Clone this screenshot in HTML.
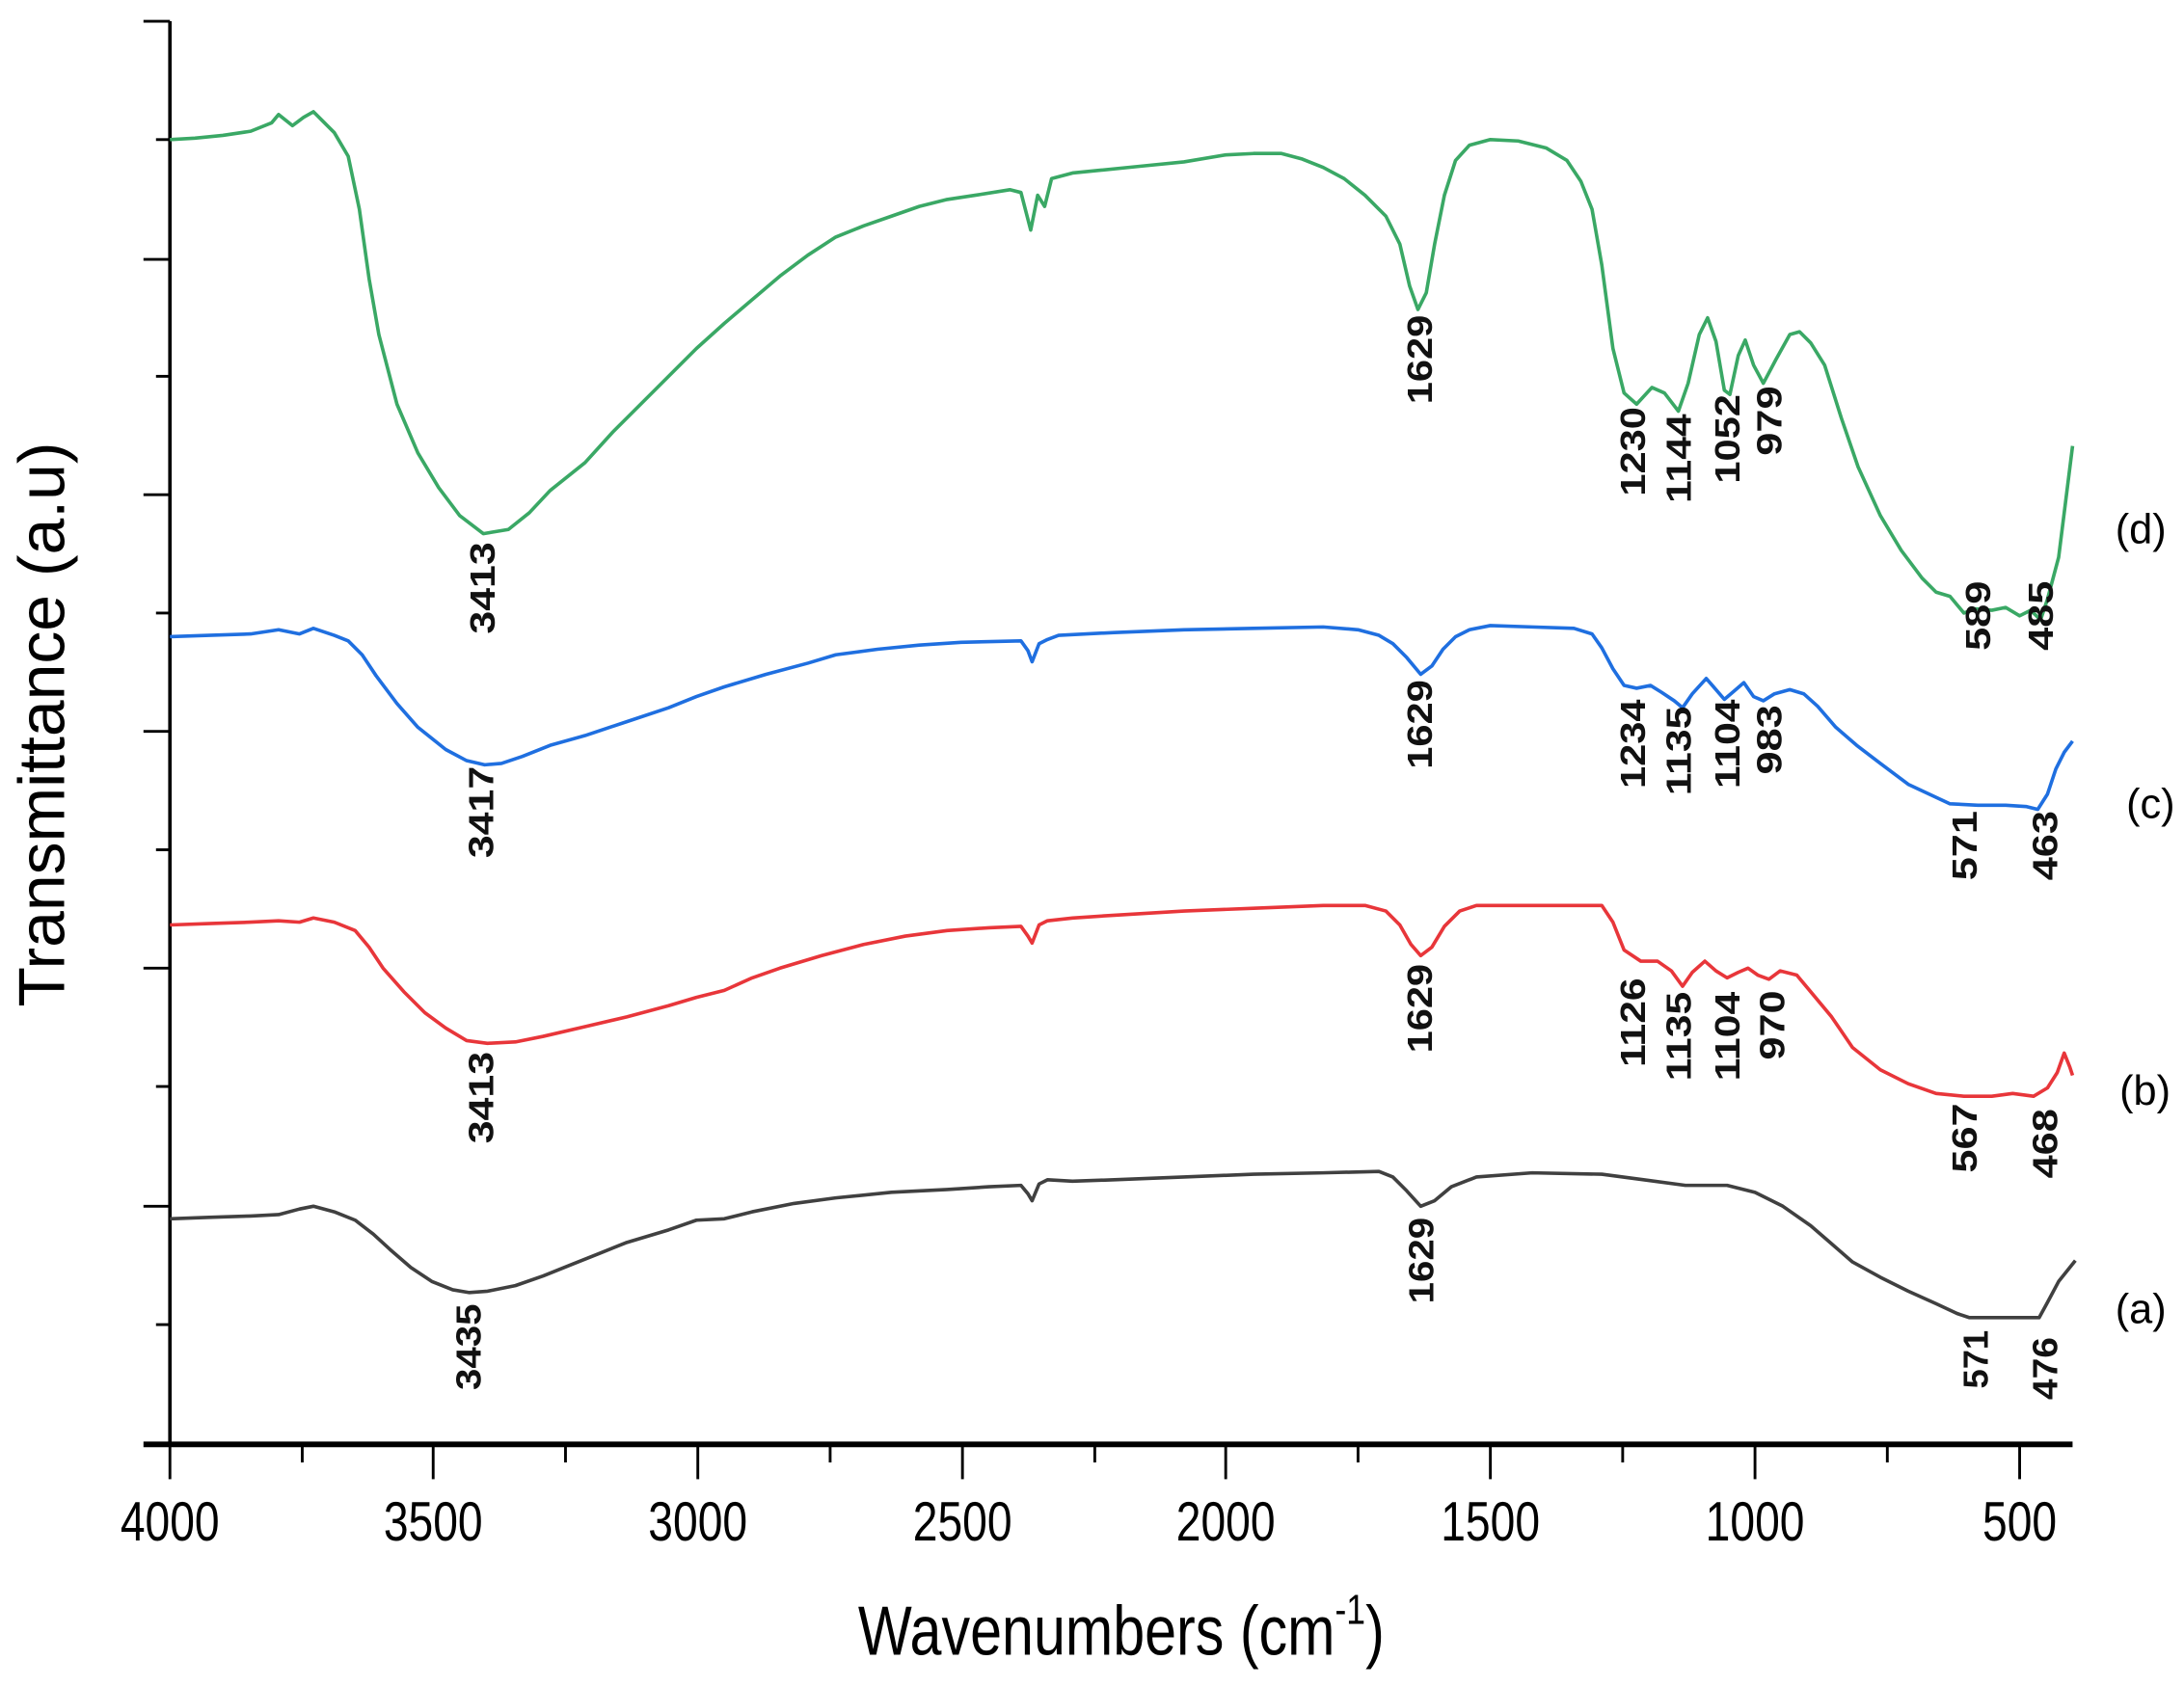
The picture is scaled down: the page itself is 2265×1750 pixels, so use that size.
<!DOCTYPE html>
<html><head><meta charset="utf-8"><style>
html,body{margin:0;padding:0;background:#fff;}
svg{display:block;}
.lab{font-family:"Liberation Sans",Arial,sans-serif;font-weight:bold;font-size:25px;fill:#111;}
.tk{font-family:"Liberation Sans",Arial,sans-serif;font-size:40px;fill:#000;}
</style></head><body>
<svg width="2265" height="1750" viewBox="0 0 1568 1211" xmlns="http://www.w3.org/2000/svg">
<rect width="1568" height="1211" fill="#fff"/>
<line x1="122" y1="15" x2="122" y2="1037" stroke="#000" stroke-width="2.5"/>
<line x1="103" y1="1037" x2="1488" y2="1037" stroke="#000" stroke-width="4"/>
<g stroke="#000" stroke-width="2">
<line x1="103" y1="15" x2="122" y2="15"/><line x1="112" y1="100" x2="122" y2="100"/>
<line x1="103" y1="186" x2="122" y2="186"/><line x1="112" y1="270" x2="122" y2="270"/>
<line x1="103" y1="355" x2="122" y2="355"/><line x1="112" y1="440" x2="122" y2="440"/>
<line x1="103" y1="525" x2="122" y2="525"/><line x1="112" y1="610" x2="122" y2="610"/>
<line x1="103" y1="695" x2="122" y2="695"/><line x1="112" y1="780" x2="122" y2="780"/>
<line x1="103" y1="866" x2="122" y2="866"/><line x1="112" y1="951" x2="122" y2="951"/>
<line x1="122" y1="1037" x2="122" y2="1062"/><line x1="217" y1="1037" x2="217" y2="1050"/>
<line x1="311" y1="1037" x2="311" y2="1062"/><line x1="406" y1="1037" x2="406" y2="1050"/>
<line x1="501" y1="1037" x2="501" y2="1062"/><line x1="596" y1="1037" x2="596" y2="1050"/>
<line x1="691" y1="1037" x2="691" y2="1062"/><line x1="786" y1="1037" x2="786" y2="1050"/>
<line x1="880" y1="1037" x2="880" y2="1062"/><line x1="975" y1="1037" x2="975" y2="1050"/>
<line x1="1070" y1="1037" x2="1070" y2="1062"/><line x1="1165" y1="1037" x2="1165" y2="1050"/>
<line x1="1260" y1="1037" x2="1260" y2="1062"/><line x1="1355" y1="1037" x2="1355" y2="1050"/>
<line x1="1450" y1="1037" x2="1450" y2="1062"/>
</g>
<g class="tk" text-anchor="middle">
<text x="122" y="1106" transform="translate(122 0) scale(0.8 1) translate(-122 0)">4000</text>
<text x="311" y="1106" transform="translate(311 0) scale(0.8 1) translate(-311 0)">3500</text>
<text x="501" y="1106" transform="translate(501 0) scale(0.8 1) translate(-501 0)">3000</text>
<text x="691" y="1106" transform="translate(691 0) scale(0.8 1) translate(-691 0)">2500</text>
<text x="880" y="1106" transform="translate(880 0) scale(0.8 1) translate(-880 0)">2000</text>
<text x="1070" y="1106" transform="translate(1070 0) scale(0.8 1) translate(-1070 0)">1500</text>
<text x="1260" y="1106" transform="translate(1260 0) scale(0.8 1) translate(-1260 0)">1000</text>
<text x="1450" y="1106" transform="translate(1450 0) scale(0.8 1) translate(-1450 0)">500</text>
</g>
<text x="805" y="1188" text-anchor="middle" font-family="Liberation Sans, Arial, sans-serif" font-size="50" transform="translate(805 0) scale(0.82 1) translate(-805 0)">Wavenumbers (cm<tspan font-size="30" dy="-22">-1</tspan><tspan dy="22">)</tspan></text>
<text transform="translate(46 520) rotate(-90)" text-anchor="middle" font-family="Liberation Sans, Arial, sans-serif" font-size="47">Transmittance (a.u)</text>
<g font-family="Liberation Sans, Arial, sans-serif" font-size="30" text-anchor="middle">
<text x="1537" y="390">(d)</text><text x="1544" y="587">(c)</text>
<text x="1540" y="793">(b)</text><text x="1537" y="950">(a)</text>
</g>
<g fill="none" stroke-width="2.5" stroke-linejoin="round">
<polyline stroke="#3aa865" points="122,100 140,99 160,97 180,94 195,88 200,82 210,90 218,84 225,80 233,88 240,95 250,112 258,150 265,200 272,240 285,290 300,325 315,350 330,370 347,383 365,380 380,368 395,352 420,332 440,310 460,290 480,270 500,250 520,232 540,215 560,198 580,183 600,170 620,162 640,155 660,148 680,143 700,140 725,136 733,138 740,165 745,140 750,148 755,128 770,124 790,122 820,119 850,116 880,111 900,110 920,110 935,114 950,120 965,128 980,140 995,155 1005,175 1012,205 1018,222 1024,210 1030,175 1037,140 1045,115 1055,104 1070,100 1090,101 1110,106 1125,115 1135,130 1143,150 1150,190 1158,250 1166,282 1175,290 1186,278 1195,282 1205,295 1212,275 1220,240 1226,228 1232,245 1238,280 1242,283 1248,255 1253,244 1259,262 1266,275 1275,258 1285,240 1292,238 1300,246 1310,262 1322,300 1334,335 1350,370 1365,395 1380,415 1390,425 1400,428 1410,440 1418,437 1430,438 1440,436 1450,442 1458,438 1465,445 1470,430 1478,400 1483,360 1488,320"/>
<polyline stroke="#1f6fe0" points="122,457 150,456 180,455 200,452 215,455 225,451 240,456 250,460 260,470 270,485 285,505 300,522 320,538 335,546 348,549 360,548 375,543 395,535 420,528 450,518 480,508 500,500 520,493 550,484 580,476 600,470 630,466 660,463 690,461 733,460 738,467 741,475 746,462 752,459 760,456 800,454 850,452 900,451 950,450 975,452 990,456 1000,462 1010,472 1020,484 1028,478 1036,466 1045,457 1055,452 1070,449 1100,450 1130,451 1143,455 1150,465 1158,480 1166,492 1175,494 1185,492 1193,497 1202,503 1208,508 1215,498 1225,487 1232,495 1238,502 1245,496 1252,490 1259,500 1266,503 1274,498 1285,495 1295,498 1305,507 1318,522 1333,535 1350,548 1370,563 1385,570 1400,577 1420,578 1440,578 1455,579 1463,581 1470,570 1476,552 1482,540 1488,532"/>
<polyline stroke="#e8363a" points="122,664 150,663 180,662 200,661 215,662 225,659 240,662 255,668 265,680 275,695 290,712 305,727 320,738 335,747 350,749 370,748 390,744 420,737 450,730 480,722 500,716 520,711 540,702 560,695 590,686 620,678 650,672 680,668 710,666 733,665 738,672 741,677 746,664 752,661 770,659 800,657 850,654 900,652 950,650 980,650 995,654 1005,664 1013,678 1020,686 1028,680 1037,665 1048,654 1060,650 1100,650 1150,650 1158,662 1166,682 1178,690 1190,690 1200,697 1208,708 1215,698 1224,690 1232,697 1240,702 1248,698 1255,695 1262,700 1270,703 1278,697 1290,700 1300,712 1315,730 1330,752 1350,768 1370,778 1390,785 1410,787 1430,787 1445,785 1460,787 1470,781 1477,770 1482,756 1486,766 1488,772"/>
<polyline stroke="#404040" points="122,875 150,874 180,873 200,872 215,868 225,866 240,870 255,876 268,886 280,897 295,910 310,920 325,926 337,928 350,927 370,923 390,916 410,908 430,900 450,892 480,883 500,876 520,875 540,870 570,864 600,860 640,856 680,854 710,852 733,851 738,857 741,862 746,850 752,847 770,848 800,847 850,845 900,843 950,842 990,841 1000,845 1010,855 1020,866 1030,862 1042,852 1060,845 1100,842 1150,843 1180,847 1210,851 1240,851 1260,856 1280,866 1300,880 1315,893 1330,906 1350,917 1370,927 1390,936 1405,943 1414,946 1440,946 1464,946 1470,935 1478,920 1490,905"/>
</g>
<g class="lab">
<text transform="translate(355 455) rotate(-90)" textLength="66" lengthAdjust="spacingAndGlyphs">3413</text>
<text transform="translate(1028 290) rotate(-90)" textLength="64" lengthAdjust="spacingAndGlyphs">1629</text>
<text transform="translate(1181 356) rotate(-90)" textLength="64" lengthAdjust="spacingAndGlyphs">1230</text>
<text transform="translate(1214 361) rotate(-90)" textLength="64" lengthAdjust="spacingAndGlyphs">1144</text>
<text transform="translate(1249 347) rotate(-90)" textLength="64" lengthAdjust="spacingAndGlyphs">1052</text>
<text transform="translate(1279 327) rotate(-90)" textLength="50" lengthAdjust="spacingAndGlyphs">979</text>
<text transform="translate(1429 467) rotate(-90)" textLength="50" lengthAdjust="spacingAndGlyphs">589</text>
<text transform="translate(1474 467) rotate(-90)" textLength="50" lengthAdjust="spacingAndGlyphs">485</text>

<text transform="translate(354 616) rotate(-90)" textLength="66" lengthAdjust="spacingAndGlyphs">3417</text>
<text transform="translate(1028 552) rotate(-90)" textLength="64" lengthAdjust="spacingAndGlyphs">1629</text>
<text transform="translate(1181 566) rotate(-90)" textLength="64" lengthAdjust="spacingAndGlyphs">1234</text>
<text transform="translate(1214 571) rotate(-90)" textLength="64" lengthAdjust="spacingAndGlyphs">1135</text>
<text transform="translate(1249 566) rotate(-90)" textLength="64" lengthAdjust="spacingAndGlyphs">1104</text>
<text transform="translate(1279 556) rotate(-90)" textLength="50" lengthAdjust="spacingAndGlyphs">983</text>
<text transform="translate(1419 632) rotate(-90)" textLength="50" lengthAdjust="spacingAndGlyphs">571</text>
<text transform="translate(1477 632) rotate(-90)" textLength="50" lengthAdjust="spacingAndGlyphs">463</text>

<text transform="translate(354 821) rotate(-90)" textLength="66" lengthAdjust="spacingAndGlyphs">3413</text>
<text transform="translate(1028 756) rotate(-90)" textLength="64" lengthAdjust="spacingAndGlyphs">1629</text>
<text transform="translate(1181 766) rotate(-90)" textLength="64" lengthAdjust="spacingAndGlyphs">1126</text>
<text transform="translate(1214 776) rotate(-90)" textLength="64" lengthAdjust="spacingAndGlyphs">1135</text>
<text transform="translate(1249 776) rotate(-90)" textLength="64" lengthAdjust="spacingAndGlyphs">1104</text>
<text transform="translate(1281 761) rotate(-90)" textLength="50" lengthAdjust="spacingAndGlyphs">970</text>
<text transform="translate(1419 842) rotate(-90)" textLength="50" lengthAdjust="spacingAndGlyphs">567</text>
<text transform="translate(1477 846) rotate(-90)" textLength="50" lengthAdjust="spacingAndGlyphs">468</text>

<text transform="translate(345 998) rotate(-90)" textLength="62" lengthAdjust="spacingAndGlyphs">3435</text>
<text transform="translate(1029 936) rotate(-90)" textLength="62" lengthAdjust="spacingAndGlyphs">1629</text>
<text transform="translate(1427 997) rotate(-90)" textLength="42" lengthAdjust="spacingAndGlyphs">571</text>
<text transform="translate(1477 1005) rotate(-90)" textLength="45" lengthAdjust="spacingAndGlyphs">476</text>
</g>
</svg>
</body></html>
